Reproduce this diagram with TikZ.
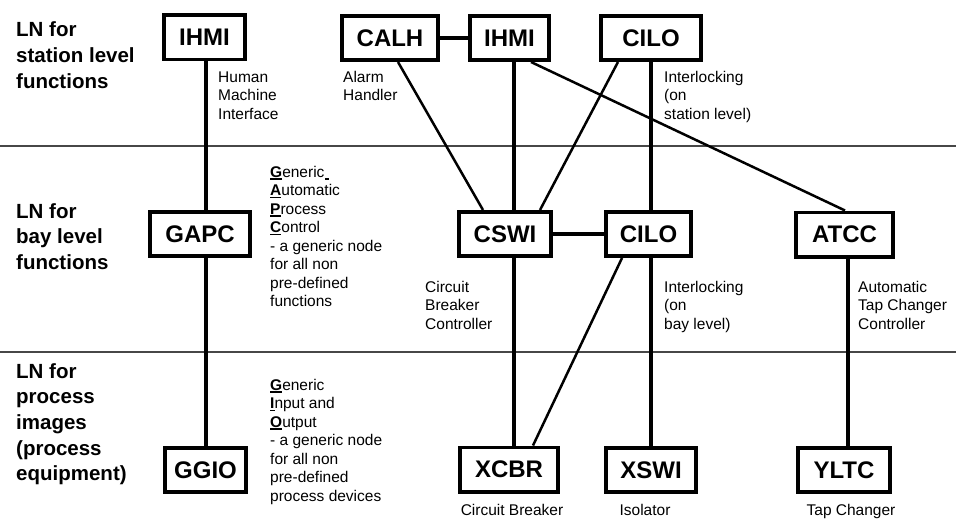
\documentclass[tikz,border=0pt]{standalone}
\usepackage{fontspec}
\setmainfont{Liberation Sans}
\usetikzlibrary{backgrounds}
% bold initial letter with an underline
\newcommand\ulb[1]{\setbox0\hbox{\textbf{#1}}\rlap{\rule[-2.6pt]{\wd0}{1.4pt}}\box0}
\begin{document}
\begin{tikzpicture}[x=1pt,y=-1pt,
  lnbox/.style={draw, line width=3.6pt, fill=white, inner sep=0pt,
    minimum height=44.4pt, font=\fontsize{24}{28}\selectfont\bfseries},
  level/.style={anchor=base west, inner sep=0pt,
    font=\fontsize{20.5}{25.7}\selectfont\bfseries},
  desc/.style={anchor=base west, inner sep=0pt,
    font=\fontsize{15.5}{18.5}\selectfont},
  undertext/.style={anchor=base, inner sep=0pt,
    font=\fontsize{15.5}{18.5}\selectfont},
  wire/.style={line width=3.3pt},
  slant/.style={line width=2.5pt},
  sep/.style={line width=1.3pt, draw=black!72}]

\useasboundingbox (0,0) rectangle (956,519);

% level separators
\coordinate (sepAL) at (0,146);   \coordinate (sepAR) at (956,146);
\coordinate (sepBL) at (0,352);   \coordinate (sepBR) at (956,352);

% station level
\node[lnbox, minimum width=81.4pt] (ihmiA) at (204.5,37.5) {IHMI};
\node[lnbox, minimum width=96.4pt] (calh)  at (390,38)    {CALH};
\node[lnbox, minimum width=79.4pt] (ihmiB) at (509.5,38)  {IHMI};
\node[lnbox, minimum width=100.4pt] (ciloA) at (651,38)   {CILO};

% bay level
\node[lnbox, minimum width=100.4pt] (gapc) at (200,234)   {GAPC};
\node[lnbox, minimum width=92.4pt] (cswi)  at (505,234)   {CSWI};
\node[lnbox, minimum width=85.4pt] (ciloB) at (648.5,234) {CILO};
\node[lnbox, minimum width=97.4pt] (atcc)  at (844.5,234.5) {ATCC};

% process level
\node[lnbox, minimum width=81.4pt] (ggio) at (205.5,470)  {GGIO};
\node[lnbox, minimum width=98.4pt] (xcbr) at (509,469.5)  {XCBR};
\node[lnbox, minimum width=90.4pt] (xswi) at (651,470)    {XSWI};
\node[lnbox, minimum width=92.4pt] (yltc) at (844,470)    {YLTC};

\begin{scope}[on background layer]
  \draw[sep] (sepAL) -- (sepAR);
  \draw[sep] (sepBL) -- (sepBR);
  % vertical chains
  \draw[wire] ([xshift=1.5pt]ihmiA.south) -- ([xshift=6pt]gapc.north);
  \draw[wire] ([xshift=6pt]gapc.south) -- ([xshift=0.5pt]ggio.north);
  \draw[wire] ([xshift=4.5pt]ihmiB.south) -- ([xshift=9pt]cswi.north);
  \draw[wire] ([xshift=9pt]cswi.south) -- ([xshift=5pt]xcbr.north);
  \draw[wire] (ciloA.south) -- ([xshift=2.5pt]ciloB.north);
  \draw[wire] ([xshift=2.5pt]ciloB.south) -- (xswi.north);
  \draw[wire] ([xshift=3.5pt]atcc.south) -- ([xshift=4pt]yltc.north);
  % horizontal links
  \draw[wire, line width=3.8pt] (calh.east) -- (ihmiB.west);
  \draw[wire, line width=3.8pt] (cswi.east) -- (ciloB.west);
  % slanted links
  \draw[slant] ([xshift=8pt]calh.south) -- ([xshift=-22pt]cswi.north);
  \draw[slant] ([xshift=-33pt]ciloA.south) -- ([xshift=35pt]cswi.north);
  \draw[slant] ([xshift=21.5pt]ihmiB.south) -- ([xshift=0.5pt]atcc.north);
  \draw[slant] ([xshift=-26.5pt]ciloB.south) -- ([xshift=24pt]xcbr.north);
\end{scope}

% level captions
\node[level] (capA) at (16,37) {\vtop{\hbox{LN for}\hbox{station level}\hbox{functions}}};
\node[level] (capB) at (16,218) {\vtop{\hbox{LN for}\hbox{bay level}\hbox{functions}}};
\node[level] (capC) at (16,378) {\vtop{\hbox{LN for}\hbox{process}\hbox{images}\hbox{(process}\hbox{equipment)}}};

% descriptions
\node[desc] (dIhmi) at (218,82) {\vtop{\hbox{Human}\hbox{Machine}\hbox{Interface}}};
\node[desc] (dCalh) at (343,82) {\vtop{\hbox{Alarm}\hbox{Handler}}};
\node[desc] (dCiloA) at (664,82) {\vtop{\hbox{Interlocking}\hbox{(on}\hbox{station level)}}};
\node[desc] (dGapc) at (270,177) {\vtop{\hbox{\ulb{G}eneric\hspace{1pt}\rule[-2.6pt]{4pt}{1.4pt}}\hbox{\ulb{A}utomatic}\hbox{\ulb{P}rocess}\hbox{\ulb{C}ontrol}\hbox{- a generic node}\hbox{for all non}\hbox{pre-defined}\hbox{functions}}};
\node[desc] (dCswi) at (425,292) {\vtop{\hbox{Circuit}\hbox{Breaker}\hbox{Controller}}};
\node[desc] (dCiloB) at (664,292) {\vtop{\hbox{Interlocking}\hbox{(on}\hbox{bay level)}}};
\node[desc] (dAtcc) at (858,292) {\vtop{\hbox{Automatic}\hbox{Tap Changer}\hbox{Controller}}};
\node[desc] (dGgio) at (270,390) {\vtop{\hbox{\ulb{G}eneric}\hbox{\ulb{I}nput and}\hbox{\ulb{O}utput}\hbox{- a generic node}\hbox{for all non}\hbox{pre-defined}\hbox{process devices}}};

\node[undertext] (dXcbr) at (512,515) {Circuit Breaker};
\node[undertext] (dXswi) at (645,515) {Isolator};
\node[undertext] (dYltc) at (851,515) {Tap Changer};
\end{tikzpicture}
\end{document}
